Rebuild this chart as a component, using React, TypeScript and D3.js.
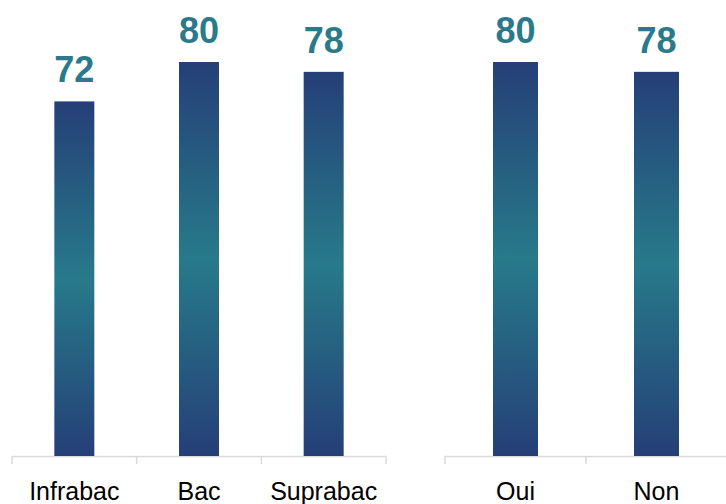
import { useEffect, useRef } from "react";
import * as d3 from "d3";

const leftCategories = ["Infrabac", "Bac", "Suprabac"];
const leftValues = [72, 80, 78];
const rightCategories = ["Oui", "Non"];
const rightValues = [80, 78];

const W = 726;
const H = 504;

const App = () => {
  const svgRef = useRef<SVGSVGElement>(null);

  useEffect(() => {
    const svg = d3.select(svgRef.current);
    svg.selectAll("*").remove();

    const defs = svg.append("defs");
    const grad = defs
      .append("linearGradient")
      .attr("id", "barGrad")
      .attr("x1", 0)
      .attr("y1", 0)
      .attr("x2", 0)
      .attr("y2", 1);
    grad.append("stop").attr("offset", "0%").attr("stop-color", "#253f77");
    grad.append("stop").attr("offset", "50%").attr("stop-color", "#277a8a");
    grad.append("stop").attr("offset", "100%").attr("stop-color", "#253f77");

    const y = d3.scaleLinear().domain([0, 80]).range([456, 62]);

    const drawGroup = (
      cats: string[],
      vals: number[],
      x0: number,
      x1: number,
      barW: number
    ) => {
      const x = d3.scaleBand().domain(cats).range([x0, x1]);
      const g = svg.append("g");

      // axis line + ticks
      g.append("line")
        .attr("x1", x0)
        .attr("x2", x1)
        .attr("y1", y(0) + 0.5)
        .attr("y2", y(0) + 0.5)
        .attr("stroke", "#d9d9d9")
        .attr("stroke-width", 1.5);
      const tickXs = cats.map((c) => x(c)!).concat([x1]);
      g.selectAll("line.tick")
        .data(tickXs)
        .enter()
        .append("line")
        .attr("class", "tick")
        .attr("x1", (d) => d)
        .attr("x2", (d) => d)
        .attr("y1", y(0))
        .attr("y2", y(0) + 8)
        .attr("stroke", "#d9d9d9")
        .attr("stroke-width", 1.5);

      const data = cats.map((c, i) => ({ c, v: vals[i] }));

      g.selectAll("rect")
        .data(data)
        .enter()
        .append("rect")
        .attr("x", (d) => x(d.c)! + x.bandwidth() / 2 - barW / 2)
        .attr("width", barW)
        .attr("y", (d) => y(d.v))
        .attr("height", (d) => y(0) - y(d.v))
        .attr("fill", "url(#barGrad)");

      g.selectAll("text.val")
        .data(data)
        .enter()
        .append("text")
        .attr("class", "val")
        .attr("x", (d) => x(d.c)! + x.bandwidth() / 2)
        .attr("y", (d) => y(d.v) - 19)
        .attr("text-anchor", "middle")
        .attr("font-family", "Liberation Sans, Arial, sans-serif")
        .attr("font-weight", "bold")
        .attr("font-size", 36)
        .attr("fill", "#2a7a8b")
        .text((d) => d.v);

      g.selectAll("text.cat")
        .data(data)
        .enter()
        .append("text")
        .attr("class", "cat")
        .attr("x", (d) => x(d.c)! + x.bandwidth() / 2)
        .attr("y", 500)
        .attr("text-anchor", "middle")
        .attr("font-family", "Liberation Sans, Arial, sans-serif")
        .attr("font-size", 25)
        .attr("fill", "#000")
        .text((d) => d.c);
    };

    drawGroup(leftCategories, leftValues, 12, 386, 40);
    drawGroup(rightCategories, rightValues, 445, 727, 45);
  }, []);

  return (
    <svg
      ref={svgRef}
      width={W}
      height={H}
      style={{ position: "absolute", left: 0, top: 0, background: "#fff" }}
    />
  );
};

export default App;
